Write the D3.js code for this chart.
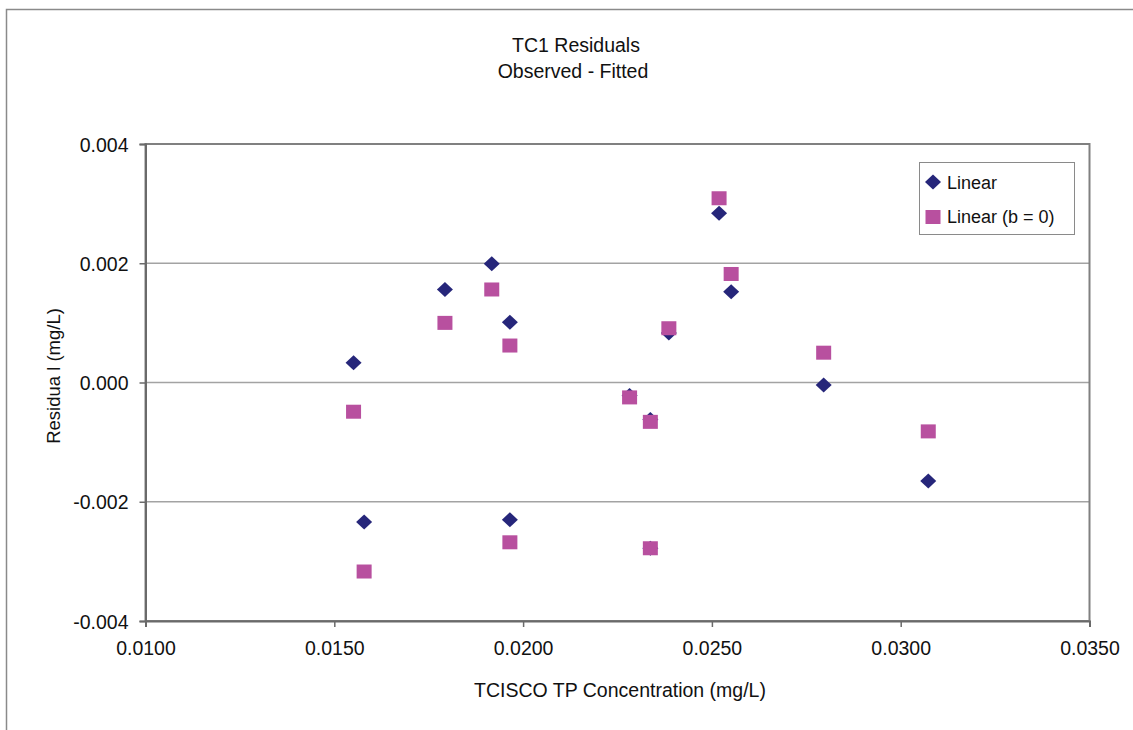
<!DOCTYPE html>
<html><head><meta charset="utf-8">
<script src="https://cdn.jsdelivr.net/npm/d3@7"></script>
<style>
html,body{margin:0;padding:0;background:#fff;}
svg{display:block;font-family:"Liberation Sans",Arial,sans-serif;}
</style></head>
<body><svg id="c" width="1133" height="730"></svg>
<script>
const concentration = [0.01551, 0.01579, 0.01793, 0.01917, 0.01965, 0.01965, 0.02282, 0.02337, 0.02337, 0.02386, 0.02519, 0.02551, 0.02796, 0.03073];
const residLinear   = [0.00033, -0.00234, 0.00156, 0.00199, 0.00101, -0.00230, -0.00022, -0.00062, -0.00278, 0.00083, 0.00284, 0.00152, -0.00004, -0.00165];
const residLinearB0 = [-0.00049, -0.00317, 0.00100, 0.00156, 0.00062, -0.00268, -0.00025, -0.00066, -0.00278, 0.00091, 0.00309, 0.00182, 0.00050, -0.00082];
const seriesNames = ["Linear", "Linear (b = 0)"];
const xTicks = [0.010, 0.015, 0.020, 0.025, 0.030, 0.035];
const yTicks = [-0.004, -0.002, 0.000, 0.002, 0.004];

const svg = d3.select("#c");
const L = 145.5, R = 1089.5, T = 144, B = 621;
const x = d3.scaleLinear().domain([0.010, 0.035]).range([L, R]);
const y = d3.scaleLinear().domain([-0.004, 0.004]).range([B, T]);
const navy = "#26267a", mag = "#b8509f";

// outer frame (left & top visible)
svg.append("path").attr("d", "M6.5,740 L6.5,9.5 L1140,9.5").attr("fill","none").attr("stroke","#8a8a8a").attr("stroke-width",1.5);

// title
const title = svg.append("text").attr("text-anchor","middle").attr("font-size",19.5).attr("fill","#111");
title.append("tspan").attr("x",576).attr("y",52).text("TC1 Residuals");
title.append("tspan").attr("x",573).attr("y",78).text("Observed - Fitted");

// gridlines
svg.append("g").selectAll("line").data(yTicks.filter(d => d > -0.004 && d < 0.004)).join("line")
  .attr("x1", L).attr("x2", R).attr("y1", d => y(d)).attr("y2", d => y(d))
  .attr("stroke","#a3a3a3").attr("stroke-width",1.5);

// plot frame
svg.append("rect").attr("x",L).attr("y",T).attr("width",R-L).attr("height",B-T)
  .attr("fill","none").attr("stroke","#808080").attr("stroke-width",2);

// axes
const fmtX = d => d3.format(".4f")(d).replace("\u2212","-");
const fmtY = d => d3.format(".3f")(d).replace("\u2212","-");
const xa = svg.append("g").attr("transform",`translate(0,${B})`)
  .call(d3.axisBottom(x).tickValues(xTicks).tickFormat(fmtX).tickSize(6).tickPadding(14));
const ya = svg.append("g").attr("transform",`translate(${L},0)`)
  .call(d3.axisLeft(y).tickValues(yTicks).tickFormat(fmtY).tickSize(6).tickPadding(11));
[xa, ya].forEach(a => {
  a.select(".domain").attr("stroke","#6a6a6a").attr("stroke-width",2);
  a.selectAll(".tick line").attr("stroke","#6a6a6a").attr("stroke-width",1.5);
  a.selectAll(".tick text").attr("font-size",19.5).attr("font-family","Liberation Sans, Arial, sans-serif").attr("fill","#111");
});
ya.selectAll(".tick text").attr("dy","0.36em");

// axis titles
svg.append("text").attr("x",620).attr("y",697).attr("text-anchor","middle").attr("font-size",19.5).attr("fill","#111")
  .text("TCISCO TP Concentration (mg/L)");
svg.append("text").attr("transform","translate(60,376) rotate(-90)").attr("text-anchor","middle").attr("font-size",18.5).attr("fill","#111")
  .text("Residua l (mg/L)");

// markers
const diamond = (w,h) => `M0,${-h/2} L${w/2},0 L0,${h/2} L${-w/2},0 Z`;
const pts = concentration.map((c,i) => ({c, a: residLinear[i], b: residLinearB0[i]}));
svg.append("g").selectAll("path").data(pts).join("path")
  .attr("transform", d => `translate(${x(d.c)},${y(d.a)})`)
  .attr("d", diamond(16,15)).attr("fill", navy);
svg.append("g").selectAll("rect").data(pts).join("rect")
  .attr("x", d => x(d.c) - 7.5).attr("y", d => y(d.b) - 7).attr("width",15).attr("height",14).attr("fill", mag);

// legend
const lg = svg.append("g");
lg.append("rect").attr("x",919.5).attr("y",162.5).attr("width",155).attr("height",72)
  .attr("fill","#fff").attr("stroke","#8a8a8a").attr("stroke-width",1);
lg.append("path").attr("transform","translate(933,182)").attr("d", diamond(16,15)).attr("fill", navy);
lg.append("rect").attr("x",925.5).attr("y",210).attr("width",15).attr("height",14).attr("fill", mag);
lg.append("text").attr("x",947).attr("y",189).attr("font-size",18).attr("fill","#111").text(seriesNames[0]);
lg.append("text").attr("x",947).attr("y",223).attr("font-size",18).attr("fill","#111").text(seriesNames[1]);
</script>
</body></html>
